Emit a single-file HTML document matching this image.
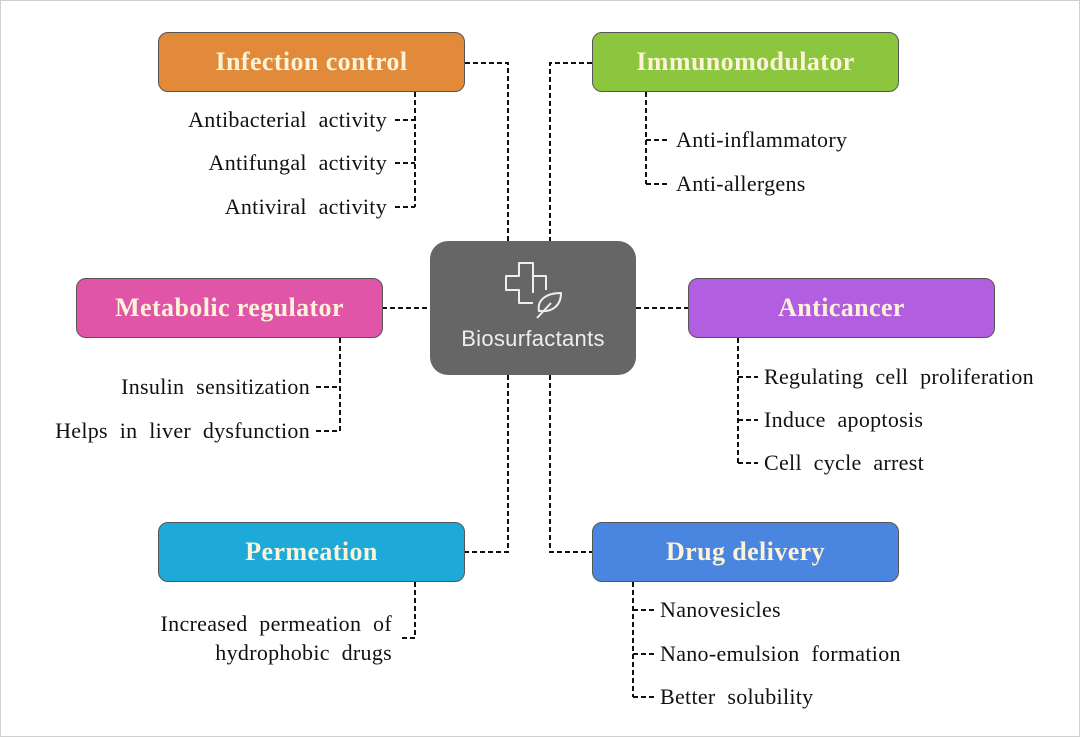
<!DOCTYPE html>
<html><head><meta charset="utf-8"><style>
body{margin:0;width:1080px;height:737px;background:#fff;position:relative;overflow:hidden;font-family:"Liberation Serif",serif}
.frame{position:absolute;left:0;top:0;width:1078px;height:735px;border:1px solid #d0d0d0}
.box{position:absolute;width:307px;height:60px;border:1.5px solid #555;border-radius:10px;color:#fdf3d8;font-weight:bold;font-size:26px;letter-spacing:0.4px;display:flex;align-items:center;justify-content:center;box-sizing:border-box}
.t{position:absolute;font-size:22px;letter-spacing:0.3px;word-spacing:6px;color:#111;white-space:nowrap;line-height:1}
.r{text-align:right}
svg{position:absolute;left:0;top:0}
</style></head><body>
<div class="frame"></div>
<svg width="1080" height="737" fill="none" stroke="#111" stroke-width="2" stroke-dasharray="5,3">
<path d="M465 63H508V241"/><path d="M592 63H550V241"/>
<path d="M508 375V552H465"/><path d="M550 375V552H592"/>
<path d="M382 308H430"/><path d="M636 308H688"/>
<path d="M415 92V207"/><path d="M395 120H415M395 163H415M395 207H415"/>
<path d="M646 92V184"/><path d="M646 140H668M646 184H668"/>
<path d="M340 338V431"/><path d="M316 387H340M316 431H340"/>
<path d="M738 338V463"/><path d="M738 377H758M738 420H758M738 463H758"/>
<path d="M415 582V638H400"/>
<path d="M633 582V697"/><path d="M633 610H655M633 654H655M633 697H655"/>
</svg>
<div class="box" style="left:158px;top:32px;background:#e08a3a">Infection control</div>
<div class="box" style="left:592px;top:32px;background:#8cc63f">Immunomodulator</div>
<div class="box" style="left:76px;top:278px;background:#e055a8">Metabolic regulator</div>
<div class="box" style="left:688px;top:278px;background:#b25ee0">Anticancer</div>
<div class="box" style="left:158px;top:522px;background:#1eaad8">Permeation</div>
<div class="box" style="left:592px;top:522px;background:#4a86e0">Drug delivery</div>
<div style="position:absolute;left:430px;top:241px;width:206px;height:134px;background:#666;border-radius:18px"></div>
<svg width="1080" height="737" fill="none" stroke="#eee" stroke-width="2" stroke-linejoin="round">
<path d="M533 293V276H546V290M533 276V263H519V276H506V290H519V303H533"/>
<path d="M539 311c-2-10 6-18 22-18c0 12-8 19-20 18zM537 318l14-15"/>
</svg>
<div style="position:absolute;left:430px;top:326px;width:206px;text-align:center;color:#eee;font-family:'Liberation Sans',sans-serif;font-size:22px;letter-spacing:0.3px">Biosurfactants</div>
<div class="t r" style="right:693px;top:109px">Antibacterial activity</div>
<div class="t r" style="right:693px;top:152px">Antifungal activity</div>
<div class="t r" style="right:693px;top:196px">Antiviral activity</div>
<div class="t" style="left:676px;top:129px">Anti-inflammatory</div>
<div class="t" style="left:676px;top:173px">Anti-allergens</div>
<div class="t r" style="right:770px;top:376px">Insulin sensitization</div>
<div class="t r" style="right:770px;top:420px">Helps in liver dysfunction</div>
<div class="t" style="left:764px;top:366px">Regulating cell proliferation</div>
<div class="t" style="left:764px;top:409px">Induce apoptosis</div>
<div class="t" style="left:764px;top:452px">Cell cycle arrest</div>
<div class="t r" style="right:688px;top:609px;line-height:29px">Increased permeation of<br>hydrophobic drugs</div>
<div class="t" style="left:660px;top:599px">Nanovesicles</div>
<div class="t" style="left:660px;top:643px">Nano-emulsion formation</div>
<div class="t" style="left:660px;top:686px">Better solubility</div>
</body></html>
